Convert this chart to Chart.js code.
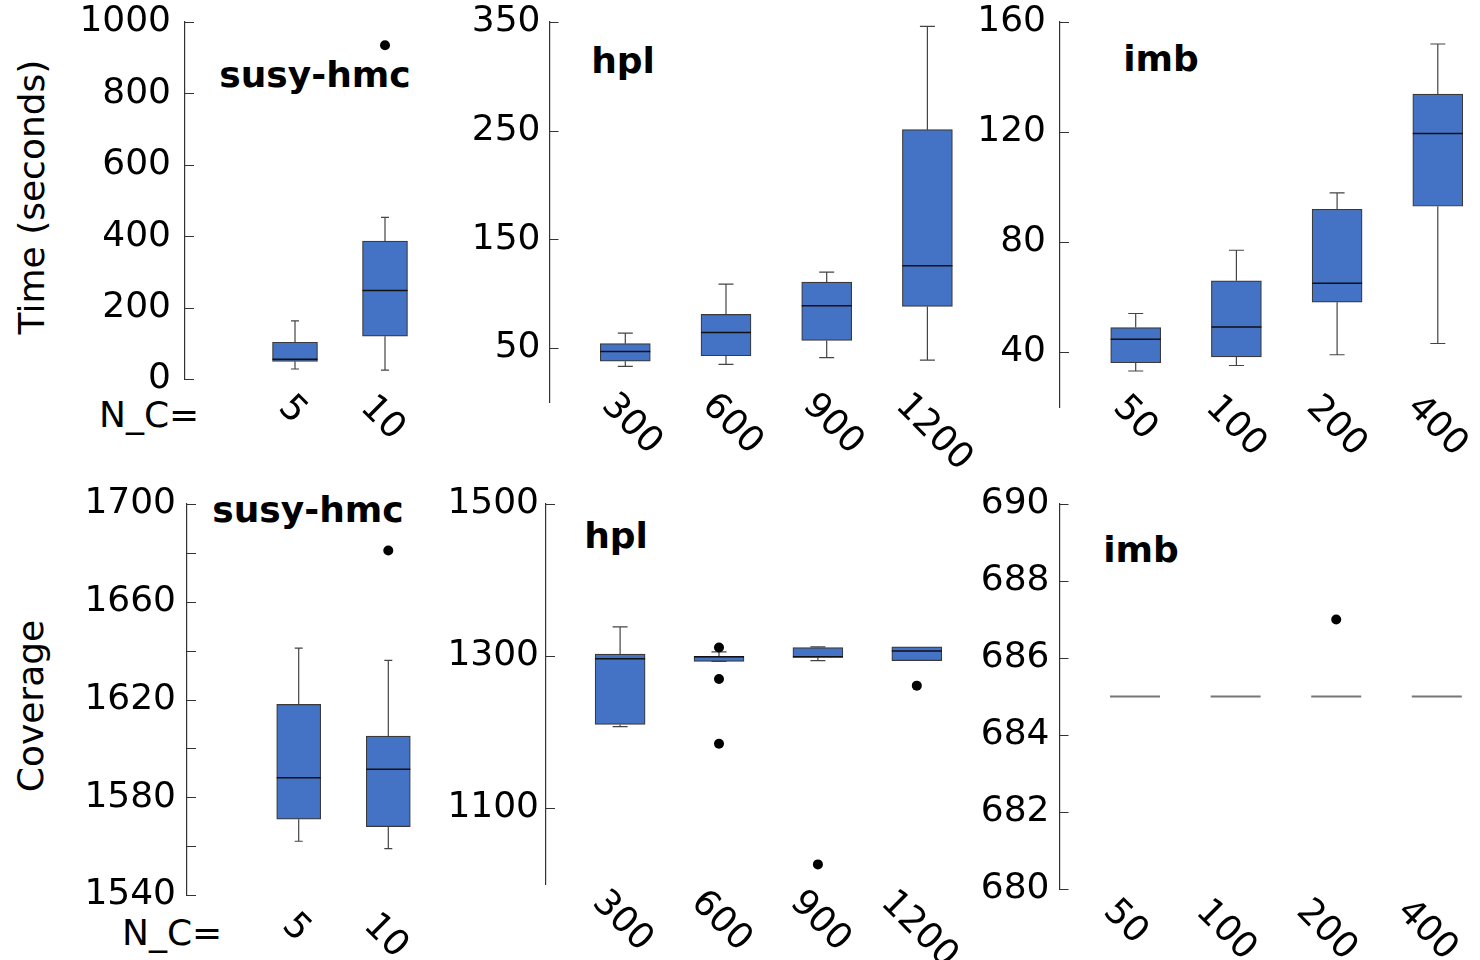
<!DOCTYPE html>
<html>
<head>
<meta charset="utf-8">
<script src="https://cdn.jsdelivr.net/npm/chart.js@4.4.1/dist/chart.umd.min.js"></script>
<style>
  html, body { margin: 0; padding: 0; background: #fff; }
  #wrap { position: relative; width: 1480px; height: 960px; overflow: hidden; font-family: "DejaVu Sans", sans-serif; color: #000; }
  canvas { position: absolute; left: -40px; top: -40px; }
  .title { position: absolute; font-weight: bold; font-size: 36px; line-height: 36px; white-space: nowrap; transform: translateX(-50%); }
  .nc { position: absolute; font-size: 36px; line-height: 36px; white-space: nowrap; }
  .ylab { position: absolute; font-size: 36px; line-height: 36px; white-space: nowrap; transform: translate(-50%, -50%) rotate(-90deg); }
</style>
</head>
<body>
<div id="wrap">
  <div class="ylab" style="left:32px;top:197px">Time (seconds)</div>
  <div class="ylab" style="left:31px;top:706px">Coverage</div>
  <div class="nc" style="left:99px;top:397px">N_C=</div>
  <div class="nc" style="left:122px;top:915px">N_C=</div>
  <div class="title" style="left:315px;top:57px">susy-hmc</div>
  <div class="title" style="left:623px;top:43px">hpl</div>
  <div class="title" style="left:1161px;top:41px">imb</div>
  <div class="title" style="left:308px;top:492px">susy-hmc</div>
  <div class="title" style="left:616px;top:518px">hpl</div>
  <div class="title" style="left:1141px;top:532px">imb</div>
</div>
<script>
// categories (N_C)
const ncSusy = ["5", "10"];
const ncHpl = ["300", "600", "900", "1200"];
const ncImb = ["50", "100", "200", "400"];

// time (seconds): whisker low, Q1, median, Q3, whisker high, outliers
const susyTimeLow = [28, 25];
const susyTimeQ1 = [49.5, 120];
const susyTimeMed = [55, 248];
const susyTimeQ3 = [103, 386];
const susyTimeHigh = [163, 453];
const susyTimeOut = [[], [935]];

const hplTimeLow = [32.8, 34.6, 40.8, 38.6];
const hplTimeQ1 = [37.6, 42.6, 56.7, 88];
const hplTimeMed = [46.6, 64.1, 88.7, 125.5];
const hplTimeQ3 = [53.7, 80.7, 110.4, 250.8];
const hplTimeHigh = [63.4, 108.6, 119.7, 346];
const hplTimeOut = [[], [], [], []];

const imbTimeLow = [33.1, 35.1, 39, 43.1];
const imbTimeQ1 = [36.1, 38.2, 58.1, 93];
const imbTimeMed = [44.6, 49.1, 65, 119.5];
const imbTimeQ3 = [48.9, 65.9, 91.9, 133.8];
const imbTimeHigh = [54, 77, 97.9, 152];
const imbTimeOut = [[], [], [], []];

// coverage
const susyCovLow = [1562, 1559];
const susyCovQ1 = [1571, 1568];
const susyCovMed = [1588, 1591.5];
const susyCovQ3 = [1618, 1605];
const susyCovHigh = [1641, 1636];
const susyCovOut = [[], [1681]];

const hplCovLow = [1207, 1293, 1294, 1294];
const hplCovQ1 = [1210, 1293, 1298, 1294];
const hplCovMed = [1296.5, 1299, 1299, 1306.6];
const hplCovQ3 = [1302.6, 1299.5, 1311, 1312];
const hplCovHigh = [1338.4, 1305.3, 1312, 1312];
const hplCovOut = [[], [1311.3, 1269.7, 1184.6], [1025.8], [1261]];

const imbCovLow = [685, 685, 685, 685];
const imbCovQ1 = [685, 685, 685, 685];
const imbCovMed = [685, 685, 685, 685];
const imbCovQ3 = [685, 685, 685, 685];
const imbCovHigh = [685, 685, 685, 685];
const imbCovOut = [[], [], [687], []];

// y tick labels and unlabelled minor ticks
const susyTimeTicks = [0, 200, 400, 600, 800, 1000];
const susyTimeMinor = [100, 300, 500, 700, 900];
const hplTimeTicks = [50, 150, 250, 350];
const imbTimeTicks = [40, 80, 120, 160];
const susyCovTicks = [1540, 1580, 1620, 1660, 1700];
const susyCovMinor = [1560, 1600, 1640, 1680];
const hplCovTicks = [1100, 1300, 1500];
const imbCovTicks = [680, 682, 684, 686, 688, 690];

Chart.defaults.font.family = "'DejaVu Sans', sans-serif";
Chart.defaults.color = "#000";

const panels = [
  { labels: ncSusy, lo: susyTimeLow, q1: susyTimeQ1, med: susyTimeMed, q3: susyTimeQ3, hi: susyTimeHigh, out: susyTimeOut,
    yMin: 0, yMax: 1000, yTicks: susyTimeTicks, yMinor: susyTimeMinor,
    axisX: 185, top: 22, bottom: 379, first: 295, step: 90, boxW: 45, capW: 8,
    tickPad: 14, labelTop: 393, labelDx: -3 },
  { labels: ncHpl, lo: hplTimeLow, q1: hplTimeQ1, med: hplTimeMed, q3: hplTimeQ3, hi: hplTimeHigh, out: hplTimeOut,
    yMin: 0, yMax: 350, yTicks: hplTimeTicks, yMinor: [],
    axisX: 549.5, top: 22, bottom: 402, first: 625.3, step: 100.7, boxW: 50, capW: 15,
    tickPad: 9, labelTop: 391, labelDx: 6 },
  { labels: ncImb, lo: imbTimeLow, q1: imbTimeQ1, med: imbTimeMed, q3: imbTimeQ3, hi: imbTimeHigh, out: imbTimeOut,
    yMin: 20, yMax: 160, yTicks: imbTimeTicks, yMinor: [],
    axisX: 1060, top: 22, bottom: 407, first: 1135.7, step: 100.7, boxW: 50, capW: 15,
    tickPad: 14, labelTop: 393, labelDx: -1 },
  { labels: ncSusy, lo: susyCovLow, q1: susyCovQ1, med: susyCovMed, q3: susyCovQ3, hi: susyCovHigh, out: susyCovOut,
    yMin: 1540, yMax: 1700, yTicks: susyCovTicks, yMinor: susyCovMinor,
    axisX: 187, top: 504, bottom: 895, first: 298.7, step: 89.6, boxW: 44, capW: 8,
    tickPad: 11, labelTop: 911, labelDx: -3 },
  { labels: ncHpl, lo: hplCovLow, q1: hplCovQ1, med: hplCovMed, q3: hplCovQ3, hi: hplCovHigh, out: hplCovOut,
    yMin: 1000, yMax: 1500, yTicks: hplCovTicks, yMinor: [],
    axisX: 546, top: 504, bottom: 884, first: 620.1, step: 98.9, boxW: 50, capW: 15,
    tickPad: 7, labelTop: 888, labelDx: 2 },
  { labels: ncImb, lo: imbCovLow, q1: imbCovQ1, med: imbCovMed, q3: imbCovQ3, hi: imbCovHigh, out: imbCovOut,
    yMin: 680, yMax: 690, yTicks: imbCovTicks, yMinor: [],
    axisX: 1059.5, top: 504, bottom: 889, first: 1135, step: 100.6, boxW: 50, capW: 15,
    tickPad: 10, labelTop: 897, labelDx: -10 }
];

const M = 40; // canvas margin beyond the page on every side
const yW = 150;

// whiskers, medians, inward ticks and rotated category labels
function boxParts(p) {
  return {
    id: "boxParts",
    beforeDatasetsDraw(chart) {
      const ctx = chart.ctx, xs = chart.scales.x, ys = chart.scales.y;
      ctx.save();
      ctx.strokeStyle = "#444";
      ctx.lineWidth = 1.2;
      p.labels.forEach((lab, i) => {
        if (p.hi[i] === p.q3[i] && p.lo[i] === p.q1[i]) return;
        const cx = xs.getPixelForValue(i + 1);
        const yLo = ys.getPixelForValue(p.lo[i]);
        const yHi = ys.getPixelForValue(p.hi[i]);
        ctx.beginPath();
        ctx.moveTo(cx, yHi); ctx.lineTo(cx, ys.getPixelForValue(p.q3[i]));
        ctx.moveTo(cx, ys.getPixelForValue(p.q1[i])); ctx.lineTo(cx, yLo);
        ctx.moveTo(cx - p.capW / 2, yHi); ctx.lineTo(cx + p.capW / 2, yHi);
        ctx.moveTo(cx - p.capW / 2, yLo); ctx.lineTo(cx + p.capW / 2, yLo);
        ctx.stroke();
      });
      ctx.restore();
    },
    afterDatasetsDraw(chart) {
      const ctx = chart.ctx, xs = chart.scales.x, ys = chart.scales.y;
      ctx.save();
      p.labels.forEach((lab, i) => {
        const cx = xs.getPixelForValue(i + 1);
        const ym = ys.getPixelForValue(p.med[i]);
        const flat = p.q1[i] === p.q3[i];
        ctx.strokeStyle = flat ? "#777" : "#111";
        ctx.lineWidth = flat ? 2 : 1.5;
        ctx.beginPath();
        ctx.moveTo(cx - p.boxW / 2, ym);
        ctx.lineTo(cx + p.boxW / 2, ym);
        ctx.stroke();
      });
      ctx.restore();
    },
    afterDraw(chart) {
      const ctx = chart.ctx, xs = chart.scales.x, ys = chart.scales.y;
      ctx.save();
      ctx.strokeStyle = "#333";
      ctx.lineWidth = 1.2;
      ctx.beginPath();
      ys.ticks.forEach(t => {
        const y = Math.round(ys.getPixelForValue(t.value)) + 0.5;
        ctx.moveTo(ys.right, y);
        ctx.lineTo(ys.right + 9, y);
      });
      ctx.stroke();
      ctx.font = "36px 'DejaVu Sans'";
      ctx.fillStyle = "#000";
      ctx.textAlign = "center";
      ctx.textBaseline = "middle";
      p.labels.forEach((lab, i) => {
        const w = ctx.measureText(lab).width;
        const cx = xs.getPixelForValue(i + 1) + p.labelDx;
        const cy = p.labelTop + M + (w + 26) / (2 * Math.SQRT2);
        ctx.save();
        ctx.translate(cx, cy);
        ctx.rotate(Math.PI / 4);
        ctx.fillText(lab, 0, 0);
        ctx.restore();
      });
      ctx.restore();
    }
  };
}

const wrap = document.getElementById("wrap");

panels.forEach(p => {
  const cv = document.createElement("canvas");
  cv.width = 1480 + 2 * M;
  cv.height = 960 + 2 * M;
  wrap.appendChild(cv);
  const n = p.labels.length;
  const right = p.first + (n - 1) * p.step + p.boxW / 2 + 10;
  const xMin = 1 - (p.first - p.axisX) / p.step;
  const xMax = 1 + (right - p.first) / p.step;
  const allTicks = p.yTicks.concat(p.yMinor).sort((a, b) => a - b);

  new Chart(cv, {
    type: "bar",
    data: {
      datasets: [
        {
          data: p.labels.map((_, i) => ({ x: i + 1, y: [p.q1[i], p.q3[i]] })),
          backgroundColor: "#4472C4",
          borderColor: "#3a3a3a",
          borderWidth: 1.2,
          borderSkipped: false,
          barThickness: p.boxW,
          order: 2,
        },
        {
          type: "scatter",
          data: p.out.flatMap((vals, i) => vals.map(v => ({ x: i + 1, y: v }))),
          pointRadius: 5,
          backgroundColor: "#000",
          borderWidth: 0,
          order: 1,
        },
      ],
    },
    options: {
      responsive: false,
      animation: false,
      devicePixelRatio: 1,
      layout: {
        padding: {
          left: p.axisX + M - yW,
          right: 1480 + M - right,
          top: p.top + M,
          bottom: 960 + M - p.bottom,
        },
      },
      plugins: {
        legend: { display: false },
        tooltip: { enabled: false },
      },
      scales: {
        x: { type: "linear", display: false, min: xMin, max: xMax, offset: false },
        y: {
          type: "linear",
          min: p.yMin,
          max: p.yMax,
          afterFit: s => { s.width = yW; },
          afterBuildTicks: s => { s.ticks = allTicks.map(v => ({ value: v })); },
          ticks: {
            font: { size: 36 },
            color: "#000",
            padding: p.tickPad,
            callback: v => (p.yTicks.includes(v) ? String(v) : ""),
          },
          grid: { display: false, drawTicks: false },
          border: { display: true, color: "#333", width: 1.2 },
        },
      },
    },
    plugins: [boxParts(p)],
  });
});
</script>
</body>
</html>
